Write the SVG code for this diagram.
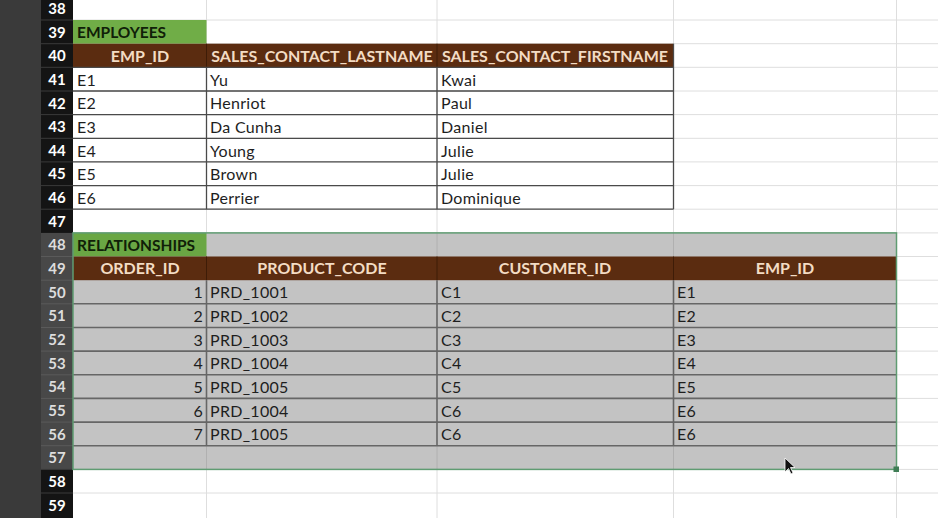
<svg xmlns="http://www.w3.org/2000/svg" width="938" height="518" viewBox="0 0 938 518">
<style>
.grid{stroke:#dedede;stroke-width:1;fill:none}
.rh{font-family:Lato,"Liberation Sans",sans-serif;font-weight:bold;font-size:15px;fill:#ffffff;text-anchor:middle}
.rhs{fill:#dddddd}
.t{font-family:Lato,"Liberation Sans",sans-serif;font-size:16px;letter-spacing:0.3px;fill:#1e1e1e}
.n{text-anchor:end}
.h{font-family:Lato,"Liberation Sans",sans-serif;font-weight:bold;font-size:16px;fill:#f3dcc4;text-anchor:middle}
.g{font-family:Lato,"Liberation Sans",sans-serif;font-weight:bold;font-size:15.5px;fill:#102008}
.b{stroke:#4a4a4a;stroke-width:1.3;fill:none}
.bs{stroke:#666666;stroke-width:1.6;fill:none}
</style>
<rect x="0" y="0" width="938" height="518" fill="#ffffff"/>
<!-- left strip and row headers -->
<g id="row-headers">
<rect x="0" y="0" width="41" height="518" fill="#3a3a3a"/>
<rect x="41" y="0" width="32" height="518" fill="#141414"/>
<rect x="41" y="232.9" width="32" height="236.5" fill="#484848"/>
<g stroke="#3a3a3a" stroke-width="1">
<line x1="41" y1="20" x2="73" y2="20"/><line x1="41" y1="43.7" x2="73" y2="43.7"/><line x1="41" y1="67.3" x2="73" y2="67.3"/><line x1="41" y1="91" x2="73" y2="91"/><line x1="41" y1="114.6" x2="73" y2="114.6"/><line x1="41" y1="138.3" x2="73" y2="138.3"/><line x1="41" y1="161.9" x2="73" y2="161.9"/><line x1="41" y1="185.6" x2="73" y2="185.6"/><line x1="41" y1="209.2" x2="73" y2="209.2"/><line x1="41" y1="469.4" x2="73" y2="469.4"/><line x1="41" y1="493" x2="73" y2="493"/>
</g>
<g stroke="#5a5a5a" stroke-width="1">
<line x1="41" y1="256.5" x2="73" y2="256.5"/><line x1="41" y1="280.2" x2="73" y2="280.2"/><line x1="41" y1="303.8" x2="73" y2="303.8"/><line x1="41" y1="327.5" x2="73" y2="327.5"/><line x1="41" y1="351.1" x2="73" y2="351.1"/><line x1="41" y1="374.8" x2="73" y2="374.8"/><line x1="41" y1="398.4" x2="73" y2="398.4"/><line x1="41" y1="422.1" x2="73" y2="422.1"/><line x1="41" y1="445.7" x2="73" y2="445.7"/>
</g>
<text class="rh" x="57" y="14">38</text>
<text class="rh" x="57" y="37.5">39</text>
<text class="rh" x="57" y="61.2">40</text>
<text class="rh" x="57" y="84.8">41</text>
<text class="rh" x="57" y="108.5">42</text>
<text class="rh" x="57" y="132.1">43</text>
<text class="rh" x="57" y="155.8">44</text>
<text class="rh" x="57" y="179.4">45</text>
<text class="rh" x="57" y="203.1">46</text>
<text class="rh" x="57" y="226.7">47</text>
<text class="rh rhs" x="57" y="250.4">48</text>
<text class="rh rhs" x="57" y="274">49</text>
<text class="rh rhs" x="57" y="297.7">50</text>
<text class="rh rhs" x="57" y="321.3">51</text>
<text class="rh rhs" x="57" y="345">52</text>
<text class="rh rhs" x="57" y="368.6">53</text>
<text class="rh rhs" x="57" y="392.3">54</text>
<text class="rh rhs" x="57" y="415.9">55</text>
<text class="rh rhs" x="57" y="439.6">56</text>
<text class="rh rhs" x="57" y="463.2">57</text>
<text class="rh" x="57" y="486.9">58</text>
<text class="rh" x="57" y="510.5">59</text>
</g>
<!-- gridlines -->
<g id="gridlines" class="grid">
<line x1="73" y1="20" x2="938" y2="20"/><line x1="73" y1="43.7" x2="938" y2="43.7"/><line x1="73" y1="67.3" x2="938" y2="67.3"/><line x1="73" y1="91" x2="938" y2="91"/><line x1="73" y1="114.6" x2="938" y2="114.6"/><line x1="73" y1="138.3" x2="938" y2="138.3"/><line x1="73" y1="161.9" x2="938" y2="161.9"/><line x1="73" y1="185.6" x2="938" y2="185.6"/><line x1="73" y1="209.2" x2="938" y2="209.2"/><line x1="73" y1="232.9" x2="938" y2="232.9"/><line x1="73" y1="256.5" x2="938" y2="256.5"/><line x1="73" y1="280.2" x2="938" y2="280.2"/><line x1="73" y1="303.8" x2="938" y2="303.8"/><line x1="73" y1="327.5" x2="938" y2="327.5"/><line x1="73" y1="351.1" x2="938" y2="351.1"/><line x1="73" y1="374.8" x2="938" y2="374.8"/><line x1="73" y1="398.4" x2="938" y2="398.4"/><line x1="73" y1="422.1" x2="938" y2="422.1"/><line x1="73" y1="445.7" x2="938" y2="445.7"/><line x1="73" y1="469.4" x2="938" y2="469.4"/><line x1="73" y1="493" x2="938" y2="493"/>
<line x1="206.5" y1="0" x2="206.5" y2="518"/><line x1="437" y1="0" x2="437" y2="518"/><line x1="673.5" y1="0" x2="673.5" y2="518"/><line x1="896.5" y1="0" x2="896.5" y2="518"/>
</g>
<!-- employees table -->
<g id="employees">
<rect x="73" y="20" width="133.5" height="23.7" fill="#70ad47"/>
<text class="g" x="77" y="37.8">EMPLOYEES</text>
<rect x="73" y="43.7" width="600.5" height="23.6" fill="#5b2c10"/>
<g stroke="#3e1c07" stroke-width="1"><line x1="206.5" y1="43.7" x2="206.5" y2="67.3"/><line x1="437" y1="43.7" x2="437" y2="67.3"/></g>
<text class="h" x="140" y="61.5">EMP_ID</text>
<text class="h" x="322" y="61.5">SALES_CONTACT_LASTNAME</text>
<text class="h" x="555" y="61.5">SALES_CONTACT_FIRSTNAME</text>
<g class="b">
<line x1="73" y1="67.3" x2="673.5" y2="67.3"/><line x1="73" y1="91" x2="673.5" y2="91"/><line x1="73" y1="114.6" x2="673.5" y2="114.6"/><line x1="73" y1="138.3" x2="673.5" y2="138.3"/><line x1="73" y1="161.9" x2="673.5" y2="161.9"/><line x1="73" y1="185.6" x2="673.5" y2="185.6"/><line x1="73" y1="209.2" x2="673.5" y2="209.2"/>
<line x1="206.5" y1="67.3" x2="206.5" y2="209.2"/><line x1="437" y1="67.3" x2="437" y2="209.2"/><line x1="673.5" y1="43.7" x2="673.5" y2="209.2"/>
</g>
<text class="t" x="77" y="85.6">E1</text><text class="t" x="210" y="85.6">Yu</text><text class="t" x="441" y="85.6">Kwai</text>
<text class="t" x="77" y="109.3">E2</text><text class="t" x="210" y="109.3">Henriot</text><text class="t" x="441" y="109.3">Paul</text>
<text class="t" x="77" y="132.9">E3</text><text class="t" x="210" y="132.9">Da Cunha</text><text class="t" x="441" y="132.9">Daniel</text>
<text class="t" x="77" y="156.6">E4</text><text class="t" x="210" y="156.6">Young</text><text class="t" x="441" y="156.6">Julie</text>
<text class="t" x="77" y="180.2">E5</text><text class="t" x="210" y="180.2">Brown</text><text class="t" x="441" y="180.2">Julie</text>
<text class="t" x="77" y="203.9">E6</text><text class="t" x="210" y="203.9">Perrier</text><text class="t" x="441" y="203.9">Dominique</text>
</g>
<!-- relationships table (selected) -->
<g id="relationships">
<rect x="73" y="232.9" width="823.5" height="236.5" fill="#c3c3c3"/>
<g stroke="#b0b0b0" stroke-width="1"><line x1="437" y1="232.9" x2="437" y2="256.5"/><line x1="673.5" y1="232.9" x2="673.5" y2="256.5"/><line x1="206.5" y1="445.7" x2="206.5" y2="469.4"/><line x1="437" y1="445.7" x2="437" y2="469.4"/><line x1="673.5" y1="445.7" x2="673.5" y2="469.4"/></g>
<rect x="73" y="232.9" width="133.5" height="23.6" fill="#6aa744"/>
<text class="g" x="77" y="250.7">RELATIONSHIPS</text>
<rect x="73" y="256.5" width="823.5" height="23.7" fill="#5b2c10"/>
<g stroke="#3e1c07" stroke-width="1"><line x1="206.5" y1="256.5" x2="206.5" y2="280.2"/><line x1="437" y1="256.5" x2="437" y2="280.2"/><line x1="673.5" y1="256.5" x2="673.5" y2="280.2"/></g>
<text class="h" x="140" y="274.3">ORDER_ID</text>
<text class="h" x="322" y="274.3">PRODUCT_CODE</text>
<text class="h" x="555" y="274.3">CUSTOMER_ID</text>
<text class="h" x="785" y="274.3">EMP_ID</text>
<g class="bs">
<line x1="73" y1="303.8" x2="896" y2="303.8"/><line x1="73" y1="327.5" x2="896" y2="327.5"/><line x1="73" y1="351.1" x2="896" y2="351.1"/><line x1="73" y1="374.8" x2="896" y2="374.8"/><line x1="73" y1="398.4" x2="896" y2="398.4"/><line x1="73" y1="422.1" x2="896" y2="422.1"/><line x1="73" y1="445.7" x2="896" y2="445.7"/>
<line x1="206.5" y1="280.2" x2="206.5" y2="445.7"/><line x1="437" y1="280.2" x2="437" y2="445.7"/><line x1="673.5" y1="280.2" x2="673.5" y2="445.7"/>
</g>
<text class="t n" x="203" y="298.3">1</text><text class="t" x="210" y="298.3">PRD_1001</text><text class="t" x="441" y="298.3">C1</text><text class="t" x="677" y="298.3">E1</text>
<text class="t n" x="203" y="321.9">2</text><text class="t" x="210" y="321.9">PRD_1002</text><text class="t" x="441" y="321.9">C2</text><text class="t" x="677" y="321.9">E2</text>
<text class="t n" x="203" y="345.6">3</text><text class="t" x="210" y="345.6">PRD_1003</text><text class="t" x="441" y="345.6">C3</text><text class="t" x="677" y="345.6">E3</text>
<text class="t n" x="203" y="369.2">4</text><text class="t" x="210" y="369.2">PRD_1004</text><text class="t" x="441" y="369.2">C4</text><text class="t" x="677" y="369.2">E4</text>
<text class="t n" x="203" y="392.9">5</text><text class="t" x="210" y="392.9">PRD_1005</text><text class="t" x="441" y="392.9">C5</text><text class="t" x="677" y="392.9">E5</text>
<text class="t n" x="203" y="416.5">6</text><text class="t" x="210" y="416.5">PRD_1004</text><text class="t" x="441" y="416.5">C6</text><text class="t" x="677" y="416.5">E6</text>
<text class="t n" x="203" y="440.2">7</text><text class="t" x="210" y="440.2">PRD_1005</text><text class="t" x="441" y="440.2">C6</text><text class="t" x="677" y="440.2">E6</text>
<rect x="73" y="232.9" width="823.5" height="236.5" fill="none" stroke="#5f9c72" stroke-width="1.5"/>
<rect x="893.5" y="466.5" width="5.5" height="5.5" fill="#3f7d55"/>
</g>
<!-- mouse cursor -->
<path d="M785,458 L785,472 L788.5,468.5 L791,474 L793,473 L790.5,467.5 L795,467.5 Z" fill="#111111" stroke="#ffffff" stroke-width="0.8"/>
</svg>
